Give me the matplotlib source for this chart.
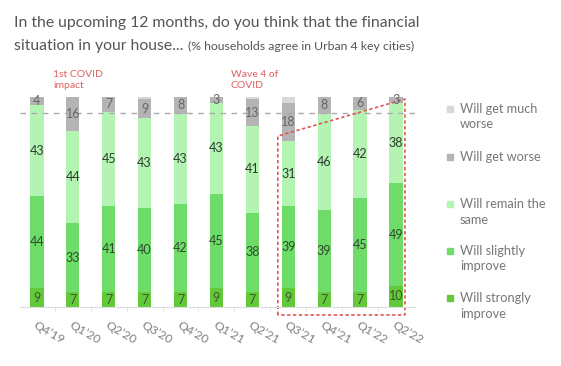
import numpy as np
import matplotlib.pyplot as plt

plt.rcParams['font.family'] = ['Lato', 'DejaVu Sans']

quarters = ["Q4’19", "Q1’20", "Q2’20", "Q3’20", "Q4’20", "Q1’21",
            "Q2’21", "Q3’21", "Q4’21", "Q1’22", "Q2’22"]
strongly = [9, 7, 7, 7, 7, 9, 7, 9, 7, 7, 10]
slightly = [44, 33, 41, 40, 42, 45, 38, 39, 39, 45, 49]
same = [43, 44, 45, 43, 43, 43, 41, 31, 46, 42, 38]
worse = [4, 16, 7, 9, 8, 3, 13, 18, 8, 6, 3]
much_worse = [0, 0, 0, 1, 0, 0, 1, 3, 0, 0, 0]

series = [strongly, slightly, same, worse, much_worse]
names = ["Will strongly\nimprove", "Will slightly\nimprove", "Will remain the\nsame",
         "Will get worse", "Will get much\nworse"]
colors = ["#62c93a", "#6ddc68", "#b4f4b3", "#b4b4b4", "#d8d8d8"]
txt_colors = ["#3d5a2a", "#2f4a2f", "#2f3a2f", "#666666", None]

W, H = 561, 366
fig = plt.figure(figsize=(W / 100, H / 100), dpi=100)
ax = fig.add_axes([20 / W, 1 - 307 / H, 395 / W, 210 / H])

x = np.arange(len(quarters))
bottom = np.zeros(len(quarters))
for vals, col, tc in zip(series, colors, txt_colors):
    vals = np.array(vals, dtype=float)
    ax.bar(x, vals, bottom=bottom, width=0.37, color=col, linewidth=0)
    if tc is not None:
        for xi, b, v in zip(x, bottom, vals):
            if v > 0:
                ax.text(xi, b + v / 2, str(int(v)), ha='center', va='center',
                        fontsize=9, color=tc)
    bottom += vals

ax.set_xlim(-0.47, 10.53)
ax.set_ylim(0, 100)
for s in ['top', 'right', 'left']:
    ax.spines[s].set_visible(False)
ax.spines['bottom'].set_color('#dddddd')
ax.set_yticks([])
ax.set_xticks(x)
ax.set_xticklabels(quarters, rotation=-30, ha='left', va='top',
                   rotation_mode='anchor', fontsize=8.8, color='#808080')
ax.tick_params(axis='x', length=0, pad=9)
ax.set_xticks(x[:-1] + 0.5, minor=True)
ax.tick_params(axis='x', which='minor', length=3, color='#dddddd')

# reference dashed line
ax.plot([-0.47, 10.67], [92.5, 92.5], ls=(0, (4, 4)), color='#aaaaaa', lw=1,
        clip_on=False)

# red dashed outline around the latest waves
ax.plot([6.71, 6.71, 10.25, 10.25, 6.71], [-3.8, 81.4, 99, -3.8, -3.8],
        ls=(0, (2, 1.5)), color='#e05555', lw=1.2, clip_on=False)

ax.text(0.45, 108, "1st COVID\nimpact", fontsize=7.5, color='#e06060',
        ha='left', va='center', linespacing=1.3, clip_on=False)
ax.text(5.4, 108, "Wave 4 of\nCOVID", fontsize=7.5, color='#e06060',
        ha='left', va='center', linespacing=1.3, clip_on=False)

# title
t1 = fig.text(14 / W, 1 - 27 / H, "In the upcoming 12 months, do you think that the financial",
              fontsize=11.3, color='#555555', ha='left', va='baseline')
t2 = fig.text(14 / W, 1 - 50 / H, "situation in your house...",
              fontsize=11.3, color='#555555', ha='left', va='baseline')
fig.canvas.draw()
bb = t2.get_window_extent(fig.canvas.get_renderer())
fig.text(bb.x1 / W + 5 / W, 1 - 50 / H, "(% households agree in Urban 4 key cities)",
         fontsize=8.8, color='#555555', ha='left', va='baseline')

# legend
leg_y = [109, 157, 204, 251, 298]
for yy, name, col in zip(leg_y, names[::-1], colors[::-1]):
    fig.patches.append(plt.Rectangle((447 / W, 1 - (yy + 3) / H), 6 / W, 6 / H,
                                     transform=fig.transFigure, color=col))
    fig.text(460 / W, 1 - (yy - 6) / H, name, fontsize=9.2, color='#777777',
             ha='left', va='top', linespacing=1.35)

fig.savefig('out.png', dpi=100)
